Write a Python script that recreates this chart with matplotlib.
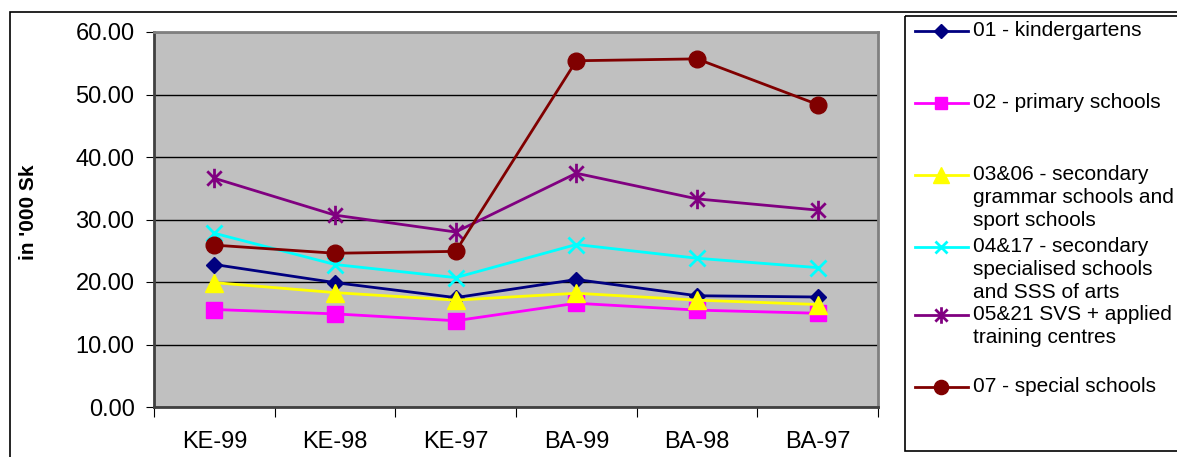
import matplotlib
matplotlib.use("Agg")
import matplotlib.pyplot as plt
from matplotlib.path import Path
from matplotlib.patches import Rectangle
import numpy as np

plt.rcParams['font.family'] = ['Liberation Sans', 'DejaVu Sans']

categories = ["KE-99", "KE-98", "KE-97", "BA-99", "BA-98", "BA-97"]
kindergartens = [22.8, 19.9, 17.5, 20.4, 17.8, 17.6]
primary = [15.6, 14.9, 13.8, 16.6, 15.5, 15.0]
grammar_sport = [19.9, 18.3, 17.1, 18.2, 17.1, 16.4]
specialised = [27.8, 22.8, 20.7, 26.0, 23.8, 22.3]
svs_training = [36.6, 30.7, 28.0, 37.4, 33.3, 31.5]
special = [25.9, 24.6, 24.9, 55.4, 55.7, 48.4]
y_ticks = [0, 10, 20, 30, 40, 50, 60]

labels = ["01 - kindergartens",
          "02 - primary schools",
          "03&06 - secondary\ngrammar schools and\nsport schools",
          "04&17 - secondary\nspecialised schools\nand SSS of arts",
          "05&21 SVS + applied\ntraining centres",
          "07 - special schools"]

# asterisk marker: an X crossed by a vertical bar
star = Path([(-1, -1), (1, 1), (-1, 1), (1, -1), (0, -1.35), (0, 1.35)],
            [Path.MOVETO, Path.LINETO, Path.MOVETO, Path.LINETO, Path.MOVETO, Path.LINETO])

styles = [
    dict(color="#000080", marker="D", ms=8, mfc="#000080", mec="#000080"),
    dict(color="#FF00FF", marker="s", ms=11, mfc="#FF00FF", mec="#FF00FF"),
    dict(color="#FFFF00", marker="^", ms=13, mfc="#FFFF00", mec="#FFFF00"),
    dict(color="#00FFFF", marker="x", ms=11, mew=2, mfc="none", mec="#00FFFF"),
    dict(color="#800080", marker=star, ms=14, mew=2, mfc="none", mec="#800080"),
    dict(color="#800000", marker="o", ms=12, mfc="#800000", mec="#800000"),
]
series = [kindergartens, primary, grammar_sport, specialised, svs_training, special]

W, H = 1177, 457
fig = plt.figure(figsize=(W / 100, H / 100), dpi=100)
fig.patch.set_facecolor("white")


def px_axes(x0, y0, x1, y1):
    return fig.add_axes([x0 / W, 1 - y1 / H, (x1 - x0) / W, (y1 - y0) / H])


# outer chart frame
fig.add_artist(Rectangle((10 / W, -0.1), 1.2, 1 - 12 / H + 0.1, transform=fig.transFigure,
                         fill=False, edgecolor="black", lw=1.2))

ax = px_axes(154, 32, 878, 407)
ax.set_facecolor("#C0C0C0")
x = np.arange(len(categories))
for vals, st in zip(series, styles):
    ax.plot(x, vals, lw=2, clip_on=False, **st)

ax.set_xlim(-0.5, len(categories) - 0.5)
ax.set_ylim(0, 60)
ax.set_yticks(y_ticks)
ax.set_yticklabels([f"{v:.2f}" for v in y_ticks], fontsize=17)
ax.yaxis.grid(True, color="black", lw=1)
ax.set_axisbelow(True)
ax.set_xticks(np.arange(-0.5, len(categories), 1.0))
ax.set_xticklabels([])
ax.set_xticks(x, minor=True)
ax.set_xticklabels(categories, minor=True, fontsize=17)
ax.tick_params(axis="x", which="major", length=7, direction="out", color="black")
ax.tick_params(axis="x", which="minor", length=0, pad=17)
ax.tick_params(axis="y", length=6, direction="out", pad=8, color="black")
for s in ax.spines.values():
    s.set_color("#808080")
    s.set_linewidth(2)
ax.spines["left"].set_color("#404040")
ax.spines["bottom"].set_color("#404040")

fig.text(28 / W, 1 - 212 / H, "in '000 Sk", rotation=90, ha="center", va="center",
         fontsize=15, fontweight="bold")

# legend box
lax = px_axes(905, 16, W + 20, 451)
lax.set_xlim(905, W + 20)
lax.set_ylim(451, 16)
lax.set_axis_off()
lax.add_patch(Rectangle((905, 16), W + 15 - 905, 435, fill=False, edgecolor="black", lw=1.2,
                        clip_on=False))
entry_y = [31, 103, 175, 247, 315, 387]
for ey, lab, st in zip(entry_y, labels, styles):
    lax.plot([915, 941, 968], [ey, ey, ey], lw=2, markevery=[1],
             **{**st, "ms": st["ms"] * 0.85})
    lax.text(973, ey - 10, lab, fontsize=15, va="top", ha="left", linespacing=1.27)

fig.savefig("out.png", dpi=100)
